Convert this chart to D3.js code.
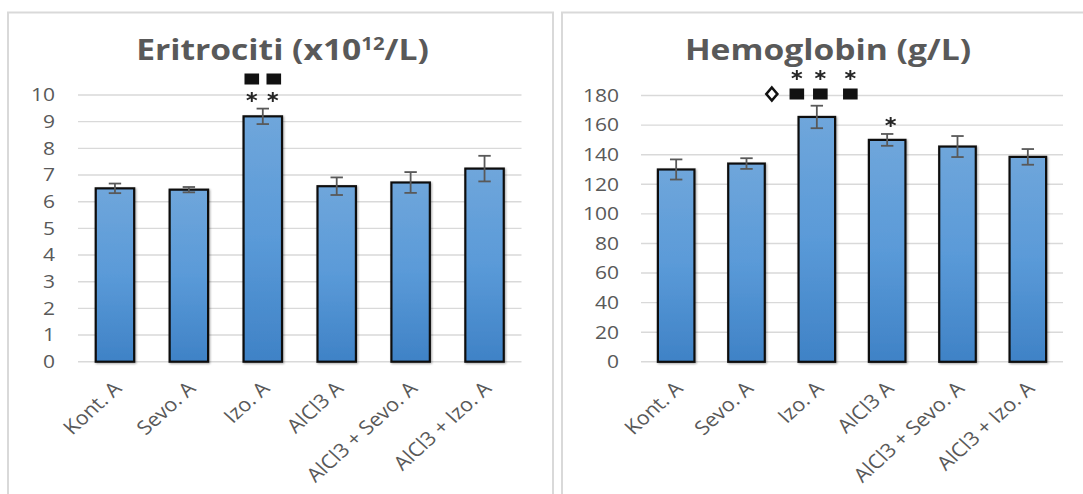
<!DOCTYPE html>
<html>
<head>
<meta charset="utf-8">
<script src="https://cdn.jsdelivr.net/npm/d3@7"></script>
<style>
  body { margin: 0; background: #fff; }
  svg { display: block; font-family: "Open Sans", "Noto Sans", sans-serif; }
</style>
</head>
<body>
<div id="chart"></div>
<script>
const categories = ["Kont. A", "Sevo. A", "Izo. A", "AlCl3 A", "AlCl3 + Sevo. A", "AlCl3 + Izo. A"];

// Eritrociti (x10^12/L)
const eritValues = [6.5, 6.45, 9.2, 6.58, 6.72, 7.24];
const eritErrors = [0.18, 0.1, 0.29, 0.33, 0.39, 0.48];
const eritTicks = [0, 1, 2, 3, 4, 5, 6, 7, 8, 9, 10];

// Hemoglobin (g/L)
const hemoValues = [130, 134, 165.5, 150, 145.5, 138.5];
const hemoErrors = [6.8, 3.6, 7.6, 4, 7.1, 5.3];
const hemoTicks = [0, 20, 40, 60, 80, 100, 120, 140, 160, 180];

const W = 1083, H = 494;
const SX = 1.2; // the source picture is stretched sideways
const svg = d3.select("#chart").append("svg").attr("width", W).attr("height", H);

const defs = svg.append("defs");
const grad = defs.append("linearGradient")
  .attr("id", "barFill").attr("x1", 0).attr("y1", 0).attr("x2", 0).attr("y2", 1);
grad.append("stop").attr("offset", "0%").attr("stop-color", "#6fa6db");
grad.append("stop").attr("offset", "50%").attr("stop-color", "#5a9ad8");
grad.append("stop").attr("offset", "100%").attr("stop-color", "#3f82c6");

const shadow = defs.append("filter").attr("id", "shadow")
  .attr("x", "-20%").attr("y", "-20%").attr("width", "140%").attr("height", "140%");
shadow.append("feDropShadow").attr("dx", 1).attr("dy", 1).attr("stdDeviation", 1.2)
  .attr("flood-color", "#000").attr("flood-opacity", 0.35);

const textColor = "#595959";

function drawPanel(opts) {
  const g = svg.append("g");

  // panel border
  g.append("rect")
    .attr("x", opts.box[0]).attr("y", opts.box[1])
    .attr("width", opts.box[2]).attr("height", opts.box[3])
    .attr("fill", "#fff").attr("stroke", "#d9d9d9").attr("stroke-width", 2);

  const x = d3.scaleBand().domain(categories)
    .range([opts.left, opts.right]).paddingInner(0.48).paddingOuter(0.24);
  const y = d3.scaleLinear().domain([0, d3.max(opts.ticks)]).range([opts.bottom, opts.top]);

  // gridlines
  g.append("g").selectAll("line").data(opts.ticks).join("line")
    .attr("x1", opts.left).attr("x2", opts.right)
    .attr("y1", d => y(d)).attr("y2", d => y(d))
    .attr("stroke", "#d9d9d9").attr("stroke-width", 1.4);

  // y tick labels
  g.append("g").selectAll("text").data(opts.ticks).join("text")
    .attr("transform", d => `translate(${opts.left - opts.labelGap},${y(d)}) scale(${SX},1)`)
    .attr("dy", "0.36em").attr("text-anchor", "end")
    .attr("font-size", 17.5).attr("fill", textColor)
    .text(d => d);

  // bars
  g.append("g").selectAll("rect").data(opts.values).join("rect")
    .attr("x", (d, i) => x(categories[i]))
    .attr("width", x.bandwidth())
    .attr("y", d => y(d))
    .attr("height", d => y(0) - y(d))
    .attr("fill", "url(#barFill)")
    .attr("stroke", "#0d0d0d").attr("stroke-width", 2.2)
    .attr("filter", "url(#shadow)");

  // error bars
  const eg = g.append("g").attr("stroke", "#595959").attr("stroke-width", 1.8);
  opts.values.forEach((v, i) => {
    const cx = x(categories[i]) + x.bandwidth() / 2;
    const e = opts.errors[i];
    eg.append("line").attr("x1", cx).attr("x2", cx).attr("y1", y(v + e)).attr("y2", y(v - e));
    eg.append("line").attr("x1", cx - 6.2).attr("x2", cx + 6.2).attr("y1", y(v + e)).attr("y2", y(v + e));
    eg.append("line").attr("x1", cx - 6.2).attr("x2", cx + 6.2).attr("y1", y(v - e)).attr("y2", y(v - e));
  });

  // x labels
  g.append("g").selectAll("text").data(categories).join("text")
    .attr("transform", d => `translate(${x(d) + x.bandwidth() / 2 + 8},${opts.bottom + 28}) scale(1.1,1) rotate(-45)`)
    .attr("text-anchor", "end")
    .attr("font-size", 19.5).attr("fill", textColor)
    .text(d => d);

  // title
  const t = g.append("text")
    .attr("transform", `translate(${opts.titleX},60) scale(${SX},1)`)
    .attr("text-anchor", "middle")
    .attr("font-size", 28).attr("font-weight", "bold").attr("fill", textColor);
  opts.title(t);

  return { x, y, g };
}

// left panel
const left = drawPanel({
  box: [8, 12.5, 545, 500],
  left: 78, right: 521.5, top: 95, bottom: 361.7, labelGap: 23,
  ticks: eritTicks, values: eritValues, errors: eritErrors,
  titleX: 282.5,
  title: t => {
    t.append("tspan").text("Eritrociti (x10");
    t.append("tspan").attr("font-size", 17).attr("dy", -10).text("12");
    t.append("tspan").attr("dy", 10).text("/L)");
  }
});

// right panel
const right = drawPanel({
  box: [562, 12.5, 600, 500],
  left: 641, right: 1063, top: 95.5, bottom: 361.8, labelGap: 22,
  ticks: hemoTicks, values: hemoValues, errors: hemoErrors,
  titleX: 828,
  title: t => t.text("Hemoglobin (g/L)")
});

// significance markers
function squares(g, xs, yc) {
  g.append("g").selectAll("rect").data(xs).join("rect")
    .attr("x", d => d - 7.3).attr("y", yc - 5.5)
    .attr("width", 14.6).attr("height", 11).attr("fill", "#111");
}
function stars(g, xs, yc) {
  g.append("g").selectAll("path").data(xs).join("path")
    .attr("transform", d => `translate(${d},${yc}) scale(1.15,1)`)
    .attr("d", d3.symbol(d3.symbolAsterisk, 70))
    .attr("fill", "none").attr("stroke", "#262626").attr("stroke-width", 1.7);
}

{
  const cx = left.x("Izo. A") + left.x.bandwidth() / 2;
  squares(left.g, [cx - 11, cx + 11], 79);
  stars(left.g, [cx - 11, cx + 10], 97);
}
{
  const cx = right.x("Izo. A") + right.x.bandwidth() / 2;
  const xs = [cx - 20, cx + 3.5, cx + 33.5];
  squares(right.g, xs, 94);
  stars(right.g, xs, 75);
  right.g.append("path")
    .attr("d", `M${cx - 45},${87.5} L${cx - 39.5},${94} L${cx - 45},${100.5} L${cx - 50.5},${94} Z`)
    .attr("fill", "#fff").attr("stroke", "#111").attr("stroke-width", 2.6);
  const ax = right.x("AlCl3 A") + right.x.bandwidth() / 2;
  stars(right.g, [ax + 3.5], 122);
}
</script>
</body>
</html>
